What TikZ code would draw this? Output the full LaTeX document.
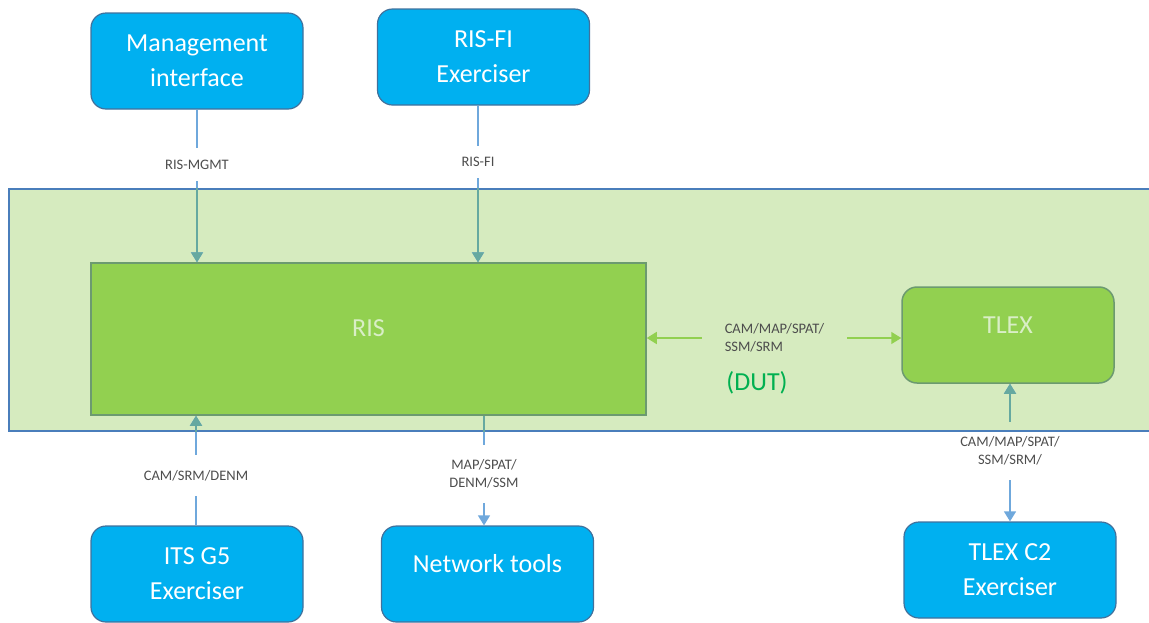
\documentclass[tikz,border=0pt]{standalone}
\usepackage{fontspec}
\setmainfont{Carlito}
\usetikzlibrary{arrows.meta}

\definecolor{boxblue}{HTML}{00B0F0}
\definecolor{boxblueline}{HTML}{41719C}
\definecolor{risgreen}{HTML}{92D050}
\definecolor{risline}{HTML}{6C9A70}
\definecolor{dutbg}{HTML}{D6EBBF}
\definecolor{dutline}{HTML}{4A7EBB}
\definecolor{linkblue}{HTML}{6FA8DC}
\definecolor{linkteal}{HTML}{66A9A0}
\definecolor{labelgrey}{HTML}{4D4D4D}
\definecolor{paletext}{HTML}{D9EEC6}
\definecolor{dutgreen}{HTML}{00B050}

% vertical interface connectors, drawn once per colour
\newcommand\drawlinks[1]{%
  \draw[link=#1] (mgmt.south) -- (lmgmt.north);
  \draw[link=#1,tip] (lmgmt.south) -- (lmgmt.south |- ris.north);
  \draw[link=#1] (lrisfi.north |- risfi.south) -- (lrisfi.north);
  \draw[link=#1,tip] (lrisfi.south) -- (lrisfi.south |- ris.north);
  \draw[link=#1] (lits.south |- its.north) -- (lits.south);
  \draw[link=#1,tip] (lits.north) -- (lits.north |- ris.south);
  \draw[link=#1] (lnet.north |- ris.south) -- (lnet.north);
  \draw[link=#1,tip] (lnet.south) -- (lnet.south |- net.north);
  \draw[link=#1,tip] (ltlex.north) -- (ltlex.north |- tlex.south);
  \draw[link=#1,tip] (ltlex.south) -- (ltlex.south |- tlexc2.north);
}

\begin{document}
\begin{tikzpicture}[x=1pt,y=-1pt,
  bigfont/.style={font=\fontsize{26}{35}\selectfont},
  bluebox/.style={draw=boxblueline, line width=1.2pt, fill=boxblue,
    rounded corners=15pt, minimum width=212pt, minimum height=96pt,
    text=white, align=center, bigfont, inner sep=0pt},
  greenbox/.style={draw=risline, line width=1.5pt, fill=risgreen,
    text=paletext, bigfont, inner sep=0pt, text height=17pt},
  lbl/.style={font=\fontsize{14.5}{18}\selectfont, text=labelgrey,
    align=center, inner sep=0pt},
  link/.style={line width=1.3pt, draw=#1},
  glink/.style={line width=1.5pt, draw=risgreen, tip},
  tip/.style={-{Triangle[width=12pt,length=10pt]}}
]
\path[use as bounding box] (0,0) rectangle (1149,622);

% device-under-test area
\node[draw=dutline, fill=dutbg, line width=1.5pt, minimum width=1157pt,
  minimum height=242pt, inner sep=0pt, anchor=north west] (dut) at (8,188) {};

% components
\node[greenbox, minimum width=555pt, minimum height=152pt, text depth=22.3pt]
  (ris) at (368.5,339) {RIS};
\node[greenbox, rounded corners=15pt, minimum width=212pt, minimum height=96pt,
  text depth=20pt] (tlex) at (1008,335) {TLEX};

\node[bluebox] (mgmt) at (197,61) {Management\\interface};
\node[bluebox] (risfi) at (483.5,57) {RIS-FI\\Exerciser};
\node[bluebox] (its) at (197,574) {ITS G5\\Exerciser};
\node[bluebox, text height=17pt, text depth=20.3pt] (net) at (487.5,574) {Network tools};
\node[bluebox] (tlexc2) at (1010,570) {TLEX C2\\Exerciser};

% interface labels
\node[lbl, minimum height=33pt] (lmgmt) at (197,164.5) {RIS-MGMT};
\node[lbl, minimum height=32pt] (lrisfi) at (478,162) {RIS-FI};
\node[lbl, minimum height=41pt] (lits) at (196,475.5) {CAM/SRM/DENM};
\node[lbl, minimum height=58pt] (lnet) at (484,474) {MAP/SPAT/\\DENM/SSM};
\node[lbl, minimum height=58pt] (ltlex) at (1010,451) {CAM/MAP/SPAT/\\SSM/SRM/};
\node[lbl, align=left, minimum width=145pt] (lrt) at (774.5,338) {CAM/MAP/SPAT/\\SSM/SRM};
\node[font=\fontsize{26}{30}\selectfont, text=dutgreen, inner sep=0pt]
  (dutname) at (757,383) {(DUT)};

% connectors: blue outside the DUT area, teal inside it
\drawlinks{linkblue}
\begin{scope}
  \clip (dut.north west) rectangle (dut.south east);
  \drawlinks{linkteal}
\end{scope}

% RIS <-> TLEX
\draw[glink] (lrt.west) -- (lrt.west -| ris.east);
\draw[glink] (lrt.east) -- (lrt.east -| tlex.west);
\end{tikzpicture}
\end{document}
